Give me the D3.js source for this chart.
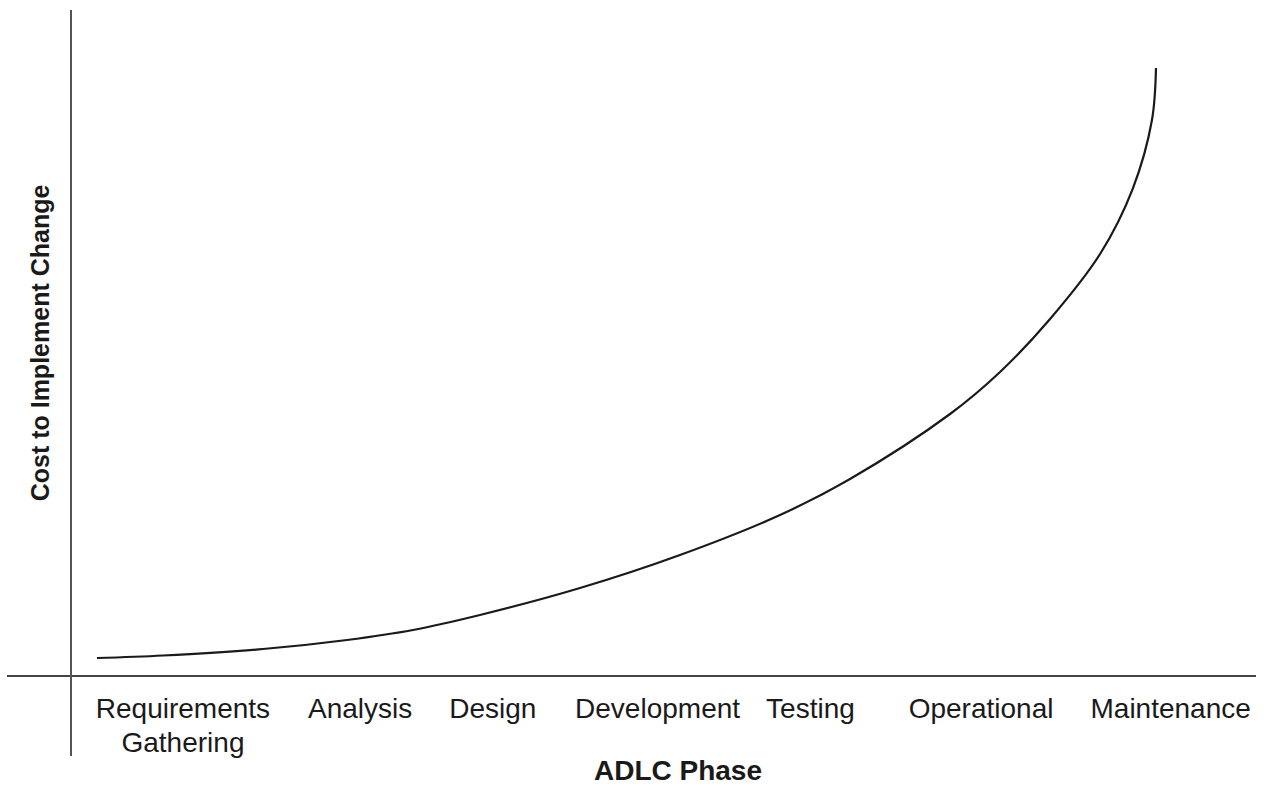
<!DOCTYPE html>
<html>
<head>
<meta charset="utf-8">
<script src="https://cdn.jsdelivr.net/npm/d3@7"></script>
<style>
  body { margin: 0; background: #fff; }
  text { font-family: "Liberation Sans", Arial, sans-serif; fill: #1a1a1a; }
</style>
</head>
<body>
<div id="chart"></div>
<script>
var width = 1266, height = 786;

// phases along the timeline (0-100) and their labels
var phases = [["Requirements", "Gathering"], ["Analysis"], ["Design"], ["Development"],
              ["Testing"], ["Operational"], ["Maintenance"]];
var phasePos = [9.45, 24.4, 35.6, 49.5, 62.4, 76.8, 92.8];

// cost curve (x on the timeline, cost 0-100)
var curveX = [2.19, 7.76, 16.2, 23.29, 28.86, 34.51, 42.95, 51.39, 59.83, 65.74, 74.18, 78.4, 82.62, 86.84, 89.62, 91.22, 91.56];
var curveY = [2.7, 3.08, 4.05, 5.41, 6.91, 9.16, 13.21, 18.17, 24.17, 29.58, 39.34, 45.65, 53.6, 63.36, 73.27, 83.48, 91.29];

var xLabel = "ADLC Phase";
var yLabel = "Cost to Implement Change";

var svg = d3.select("#chart")
    .append("svg")
    .attr("width", width)
    .attr("height", height);

var x = d3.scaleLinear().domain([0, 100]).range([71, 1256]);
var y = d3.scaleLinear().domain([0, 100]).range([676, 10]);

// axes: plain crossing lines
svg.append("line")
    .attr("x1", 7).attr("x2", x(100))
    .attr("y1", y(0)).attr("y2", y(0))
    .attr("stroke", "#444").attr("stroke-width", 2);

svg.append("line")
    .attr("x1", x(0)).attr("x2", x(0))
    .attr("y1", y(100)).attr("y2", 756)
    .attr("stroke", "#555").attr("stroke-width", 2);

var pts = curveX.map((d, i) => [d, curveY[i]]);
var line = d3.line()
    .x(d => x(d[0]))
    .y(d => y(d[1]))
    .curve(d3.curveCatmullRom.alpha(0.5));

svg.append("path")
    .datum(pts)
    .attr("d", line)
    .attr("fill", "none")
    .attr("stroke", "#1a1a1a")
    .attr("stroke-width", 2.2);

// phase labels
var lbl = svg.selectAll(".phase")
    .data(phases)
    .enter().append("text")
    .attr("class", "phase")
    .attr("text-anchor", "middle")
    .attr("font-size", 28)
    .attr("y", 718);

lbl.selectAll("tspan")
    .data((d, i) => d.map(t => ({t: t, i: i})))
    .enter().append("tspan")
    .attr("x", d => x(phasePos[d.i]))
    .attr("dy", (d, j) => j == 0 ? 0 : 34)
    .text(d => d.t);

svg.append("text")
    .attr("x", 678).attr("y", 780)
    .attr("text-anchor", "middle")
    .attr("font-size", 28)
    .attr("font-weight", "bold")
    .text(xLabel);

svg.append("text")
    .attr("transform", "translate(49,343) rotate(-90)")
    .attr("text-anchor", "middle")
    .attr("font-size", 25)
    .attr("font-weight", "bold")
    .text(yLabel);
</script>
</body>
</html>
